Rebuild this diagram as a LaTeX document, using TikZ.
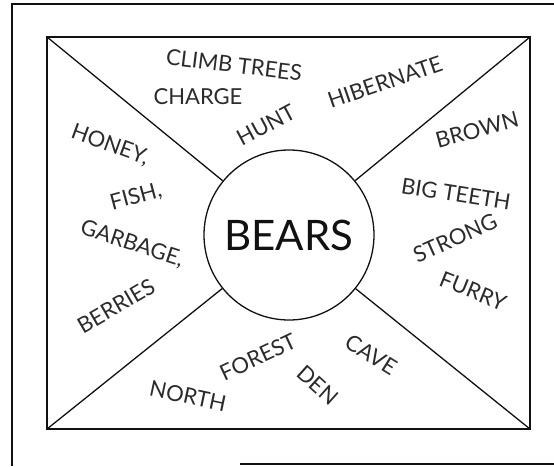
\documentclass[tikz,border=0pt]{standalone}
\usepackage{fontspec}
\setmainfont{Lato}
\usetikzlibrary{positioning}
\definecolor{tinta}{HTML}{111111}
\definecolor{lapiz}{HTML}{2B2B2B}
\tikzset{
  marco/.style={draw=tinta,line width=2pt},
  borde/.style={draw=tinta,line width=1.3pt},
  centro/.style={circle,draw=tinta,line width=1.3pt,minimum size=170pt,inner sep=0pt,font=\fontsize{42}{42}\selectfont,text=tinta},
  palabra/.style={inner sep=0pt,font=\fontsize{22}{22}\selectfont,text=lapiz},
}
\begin{document}
\begin{tikzpicture}[x=1pt,y=-1pt]
  \useasboundingbox (0,0) rectangle (554,466);
  \draw[marco] (12,466) -- (12,4) -- (554,4);
  \draw[marco] (240,464) -- (554,464);
  \coordinate (esqai) at (47,37);  \coordinate (esqad) at (530,37);
  \coordinate (esqbi) at (47,429); \coordinate (esqbd) at (530,429);
  \draw[borde] (esqai) rectangle (esqbd);
  \node[centro] (osos) at (289,235) {BEARS};
  \draw[borde] (esqai) -- (osos); \draw[borde] (esqad) -- (osos);
  \draw[borde] (esqbi) -- (osos); \draw[borde] (esqbd) -- (osos);
  \node[palabra,rotate=-7] (trepar) at (234,65) {CLIMB TREES};
  \node[palabra] (cargar) at (198,97) {CHARGE};
  \node[palabra,rotate=28] (cazar) at (266,125) {HUNT};
  \node[palabra,rotate=19] (hibernar) at (385,82) {HIBERNATE};
  \node[palabra,rotate=15] (cafe) at (477,130) {BROWN};
  \node[palabra,rotate=-9] (dientes) at (456,194) {BIG TEETH};
  \node[palabra,rotate=24] (fuerte) at (455,238) {STRONG};
  \node[palabra,rotate=-22] (peludo) at (473,291) {FURRY};
  \node[palabra,rotate=-32] (cueva) at (371,355) {CAVE};
  \node[palabra,rotate=-42] (guarida) at (318,385) {DEN};
  \node[palabra,rotate=25] (bosque) at (258,357) {FOREST};
  \node[palabra,rotate=-12] (norte) at (188,396) {NORTH};
  \node[palabra,rotate=-20] (miel) at (110,145) {HONEY,};
  \node[palabra,rotate=15] (pez) at (136,197) {FISH,};
  \node[palabra,rotate=-18] (basura) at (132,244) {GARBAGE,};
  \node[palabra,rotate=30] (bayas) at (116,306) {BERRIES};
\end{tikzpicture}
\end{document}
